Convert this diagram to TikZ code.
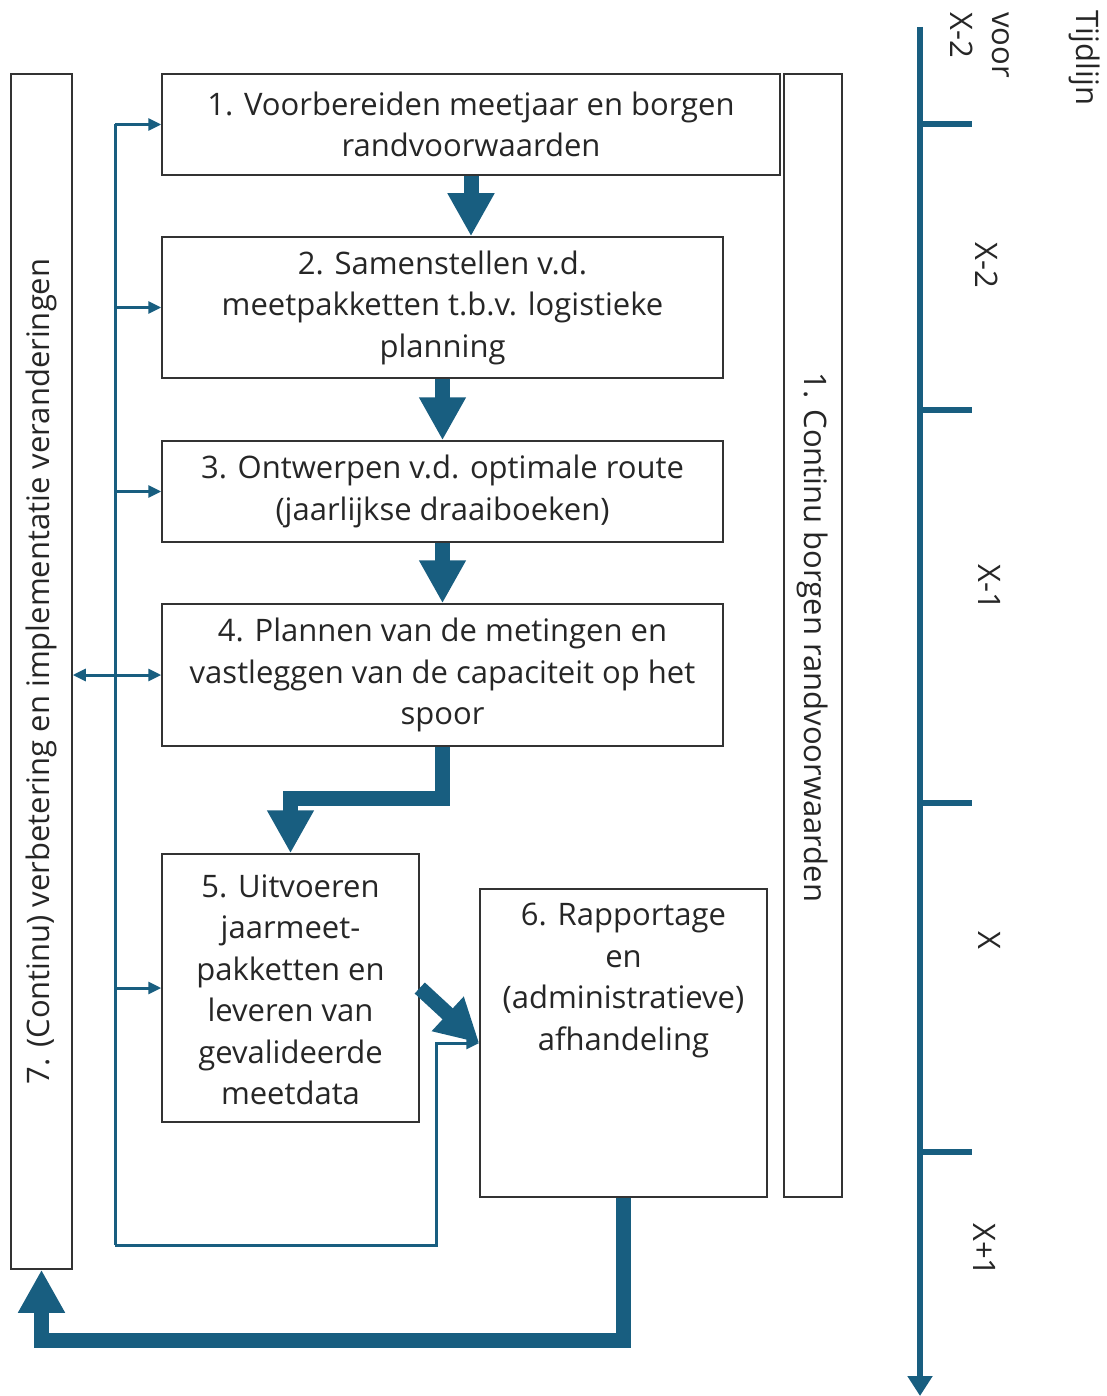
\documentclass[tikz,border=0pt]{standalone}
\usepackage{fontspec}
\setmainfont{Open Sans}
\usetikzlibrary{arrows.meta,positioning,calc}
\definecolor{tblue}{HTML}{185E80}
\definecolor{bordergray}{HTML}{333333}
\tikzset{
  box/.style={draw=bordergray, line width=1.5pt, inner sep=0pt, fill=white},
  txt/.style={font=\fontsize{31}{41.5}\selectfont, align=center, inner sep=0pt, text=black!85},
  bigarrow/.style={draw=tblue, line width=15pt, line join=miter, -{Triangle[width=44pt,length=43pt]}},
  thinline/.style={draw=tblue, line width=3pt},
  thinarrow/.style={thinline, -{Triangle[width=12pt,length=13pt]}},
  tl/.style={draw=tblue, line width=6pt}
}
\begin{document}
\begin{tikzpicture}[x=1pt,y=-1pt]
\useasboundingbox (0,0) rectangle (1106,1396);

% boxes
\node[box, minimum width=618, minimum height=101] (b1) at (471,124.5) {};
\node[txt] at (b1.center) {1. Voorbereiden meetjaar en borgen\\randvoorwaarden};
\node[box, minimum width=561, minimum height=141] (b2) at (442.5,307.5) {};
\node[txt] at (b2.center) {2. Samenstellen v.d.\\meetpakketten t.b.v. logistieke\\planning};
\node[box, minimum width=561, minimum height=101] (b3) at (442.5,491.5) {};
\node[txt] at (b3.center) {3. Ontwerpen v.d. optimale route\\(jaarlijkse draaiboeken)};
\node[box, minimum width=561, minimum height=142] (b4) at (442.5,675) {};
\node[txt] at (b4.center) {4. Plannen van de metingen en\\vastleggen van de capaciteit op het\\spoor};
\node[box, minimum width=257, minimum height=268] (b5) at (290.5,988) {};
\node[txt] at ([yshift=-2pt]b5.center) {5. Uitvoeren\\jaarmeet-\\pakketten en\\leveren van\\gevalideerde\\meetdata};
\node[box, minimum width=287, minimum height=308] (b6) at (623.5,1043) {};
\node[txt, anchor=north] at ([yshift=-15pt]b6.north) {6. Rapportage\\en\\(administratieve)\\afhandeling};
\node[box, minimum width=61, minimum height=1195] (b7) at (41.5,671.5) {};
\node[txt, rotate=90] at ([yshift=0pt]b7.center) {7. (Continu) verbetering en implementatie veranderingen};
\node[box, minimum width=58, minimum height=1123] (b8) at (813,635.5) {};
\node[txt, rotate=-90] at ([yshift=-2pt]b8.center) {1. Continu borgen randvoorwaarden};

% big arrows
\draw[bigarrow] (b1.south) -- (b1.south |- b2.north);
\draw[bigarrow] (b2.south) -- (b3.north);
\draw[bigarrow] (b3.south) -- (b4.north);
\draw[bigarrow] (b4.south) -- ++(0,52) -| (b5.north);
\draw[bigarrow] (b5.east) -- (b6.west);
\draw[bigarrow] (b6.south) -- ++(0,143) -| (b7.south);

% thin feedback lines
\coordinate (tt) at (115,124.5);
\coordinate (tb) at (115,1245);
\coordinate (tr) at (436,1245);
\draw[thinarrow] (tt) -- (b1.west);
\draw[thinline] (tt) -- (tb);
\draw[thinarrow] (tb) -- (tr) -- (tr |- b6.west) -- (b6.west);
\draw[thinarrow] (tt |- b2.west) -- (b2.west);
\draw[thinarrow] (tt |- b3.west) -- (b3.west);
\draw[thinline, {Triangle[width=12pt,length=13pt]}-{Triangle[width=12pt,length=13pt]}] (b7.east |- b4.west) -- (b4.west);
\draw[thinarrow] (tt |- b5.west) -- (b5.west);

% timeline
\coordinate (t0) at (920,27);
\coordinate (t1) at (920,1396);
\draw[tl, -{Triangle[width=24pt,length=20pt]}] (t0) -- (t1);
\foreach \yy in {124,410,803,1152} {
  \draw[tl] (920,\yy) -- (972,\yy);
}
\node[txt, rotate=-90] (tlab) at (1085,58) {Tijdlijn};
\node[txt, rotate=-90, align=left] (voor) at (980,45) {voor\\X-2};
\node[txt, rotate=-90] (l1) at (987,265) {X-2};
\node[txt, rotate=-90] (l2) at (990,587) {X-1};
\node[txt, rotate=-90] (l3) at (990,940) {X};
\node[txt, rotate=-90] (l4) at (985,1250) {X+1};
\end{tikzpicture}
\end{document}
